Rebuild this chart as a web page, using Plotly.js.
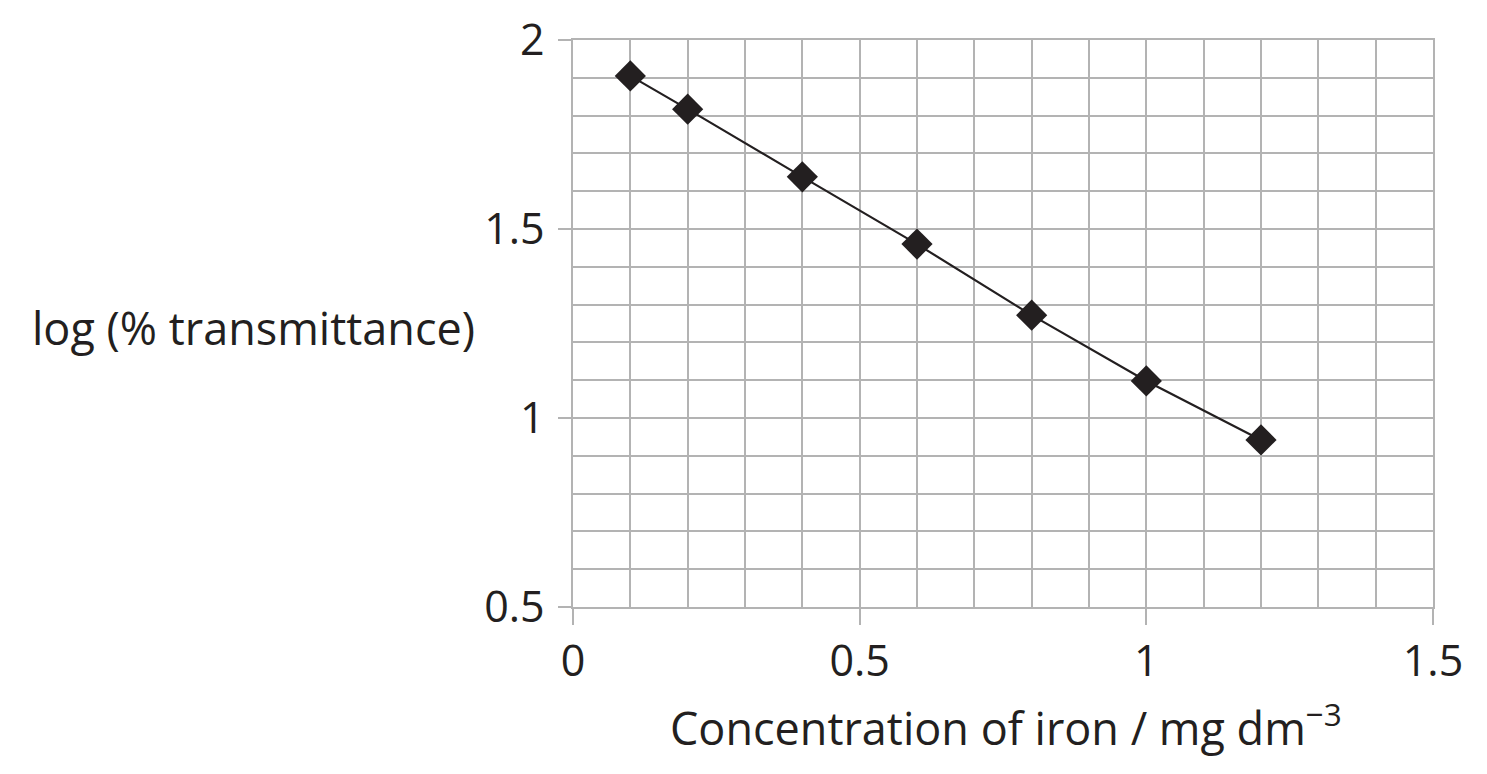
<!DOCTYPE html>
<html>
<head>
<meta charset="utf-8">
<script src="https://cdn.plot.ly/plotly-3.0.1.min.js"></script>
<style>
  html, body { margin: 0; padding: 0; background: #ffffff; }
  #chart { width: 1487px; height: 774px; }
</style>
</head>
<body>
<div id="chart"></div>
<script>
// Data
const concentration = [0.1, 0.2, 0.4, 0.6, 0.8, 1.0, 1.2];
const logTransmittance = [1.905, 1.817, 1.638, 1.46, 1.272, 1.098, 0.942];

const xTitle = 'Concentration of iron / mg dm<sup>\u22123</sup>';
const yTitle = 'log (% transmittance)';

const ink = '#231f20';
const grid = '#b3b3b3';
const fontFamily = '"Open Sans", "Noto Sans", sans-serif';

const trace = {
  x: concentration,
  y: logTransmittance,
  type: 'scatter',
  mode: 'lines+markers',
  line: { color: ink, width: 2.2 },
  marker: { symbol: 'diamond', size: 24, color: ink, line: { width: 0 } },
  hoverinfo: 'x+y',
  showlegend: false
};

const axisCommon = {
  showgrid: true,
  gridcolor: grid,
  gridwidth: 1.5,
  zeroline: false,
  showline: true,
  mirror: true,
  linecolor: grid,
  linewidth: 1.5,
  ticks: 'outside',
  tickcolor: grid,
  tickwidth: 1.5,
  tickfont: { family: fontFamily, size: 43, color: ink },
  fixedrange: true
};

const layout = {
  width: 1487,
  height: 774,
  margin: { l: 573, r: 54, t: 40, b: 167, pad: 0 },
  paper_bgcolor: '#ffffff',
  plot_bgcolor: '#ffffff',
  font: { family: fontFamily, color: ink },
  xaxis: Object.assign({}, axisCommon, {
    range: [0, 1.5],
    tick0: 0,
    dtick: 0.5,
    ticklen: 16,
    ticklabelstandoff: 0,
    minor: { dtick: 0.1, showgrid: true, gridcolor: grid, gridwidth: 1.5, ticks: '' }
  }),
  yaxis: Object.assign({}, axisCommon, {
    range: [0.5, 2],
    tick0: 0.5,
    dtick: 0.5,
    ticklen: 13,
    ticklabelstandoff: 5,
    minor: { dtick: 0.1, showgrid: true, gridcolor: grid, gridwidth: 1.5, ticks: '' }
  }),
  annotations: [
    {
      text: yTitle,
      xref: 'paper', yref: 'paper',
      x: (30 - 573) / 860, y: (607 - 327) / 567,
      xanchor: 'left', yanchor: 'middle',
      showarrow: false,
      font: { family: fontFamily, size: 45, color: ink }
    },
    {
      text: xTitle,
      xref: 'paper', yref: 'paper',
      x: (668 - 573) / 860, y: (607 - 725) / 567,
      xanchor: 'left', yanchor: 'middle',
      showarrow: false,
      font: { family: fontFamily, size: 45, color: ink }
    }
  ]
};

Plotly.newPlot('chart', [trace], layout, { displayModeBar: false });
</script>
</body>
</html>
